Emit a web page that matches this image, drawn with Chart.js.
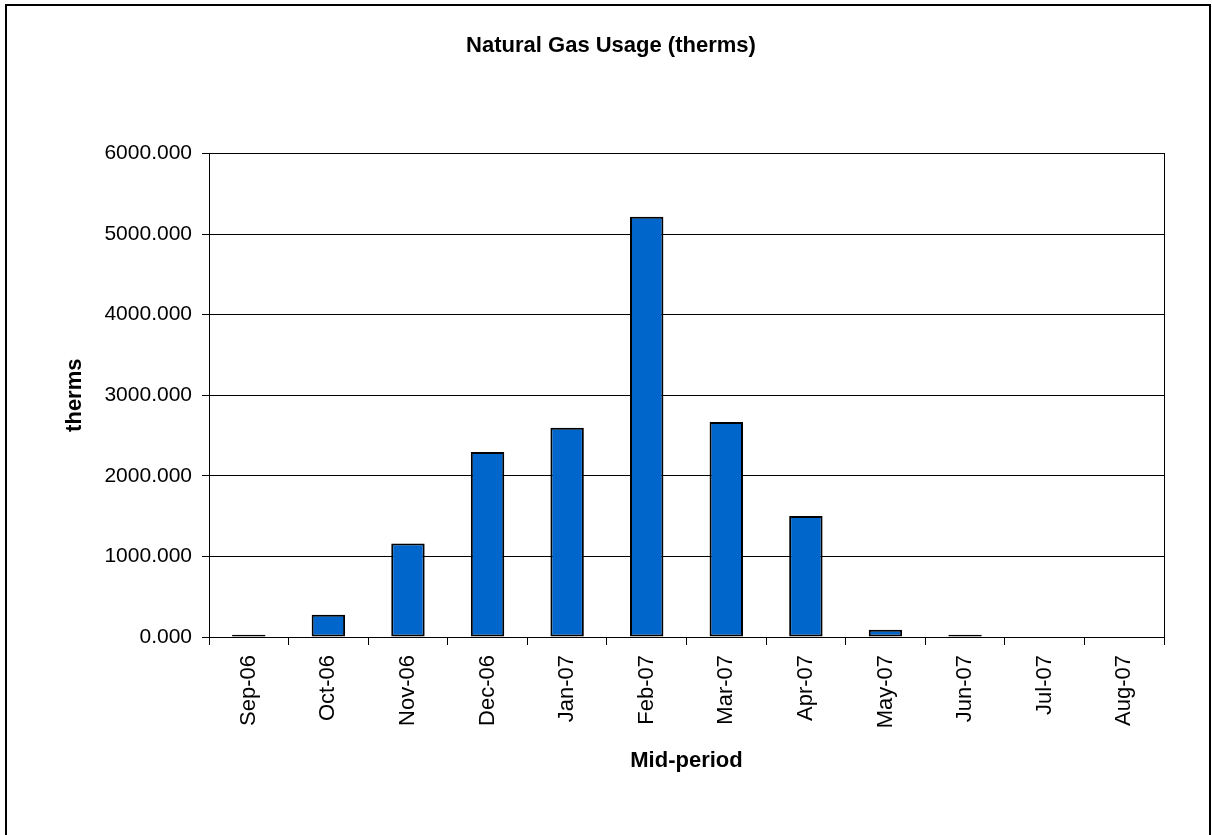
<!DOCTYPE html>
<html>
<head>
<meta charset="utf-8">
<script src="https://cdn.jsdelivr.net/npm/chart.js@4"></script>
<style>
  html, body { margin: 0; padding: 0; background: #fff; }
  #wrap { width: 1212px; height: 835px; position: relative; }
</style>
</head>
<body>
<div id="wrap"><canvas id="c"></canvas></div>
<script>
const categories = ["Sep-06","Oct-06","Nov-06","Dec-06","Jan-07","Feb-07","Mar-07","Apr-07","May-07","Jun-07","Jul-07","Aug-07"];
const usage = [28, 276, 1160, 2296, 2596, 5214, 2667, 1500, 90, 28, 0, 0];
const yTicks = [0, 1000, 2000, 3000, 4000, 5000, 6000];
const chartTitle = "Natural Gas Usage (therms)";
const xTitle = "Mid-period";
const yTitle = "therms";

const FONT = '"Liberation Sans", Arial, Helvetica, sans-serif';

const frame = {
  id: 'frame',
  beforeDraw(chart) {
    const ctx = chart.ctx;
    ctx.save();
    ctx.fillStyle = '#fff';
    ctx.fillRect(0, 0, chart.width, chart.height);
    ctx.strokeStyle = '#000';
    ctx.lineWidth = 2;
    ctx.strokeRect(6, 5, chart.width - 8, chart.height + 10);
    ctx.restore();
  },
  afterDraw(chart) {
    const a = chart.chartArea;
    const ctx = chart.ctx;
    ctx.save();
    ctx.strokeStyle = '#000';
    ctx.lineWidth = 1;
    ctx.strokeRect(Math.round(a.left) + 0.5, Math.round(a.top) + 0.5, Math.round(a.right - a.left), Math.round(a.bottom - a.top));
    ctx.restore();
  }
};

new Chart(document.getElementById('c'), {
  type: 'bar',
  data: {
    labels: categories,
    datasets: [{
      label: 'therms',
      data: usage,
      backgroundColor: '#0066CC',
      borderColor: '#000000',
      borderWidth: 2,
      borderSkipped: false,
      barPercentage: 0.42,
      categoryPercentage: 1.0
    }]
  },
  options: {
    responsive: true,
    maintainAspectRatio: false,
    animation: false,
    devicePixelRatio: 1,
    layout: { padding: { left: 58, right: 48, top: 0, bottom: 57 } },
    plugins: {
      legend: { display: false },
      tooltip: { enabled: false },
      title: {
        display: true,
        text: chartTitle,
        color: '#000',
        font: { family: FONT, size: 22, weight: 'bold' },
        padding: { top: 33, bottom: 94 }
      }
    },
    scales: {
      x: {
        grid: { display: true, drawOnChartArea: false, drawTicks: true, tickLength: 8, offset: true, color: '#000', lineWidth: 1 },
        border: { display: true, color: '#000', width: 1 },
        ticks: { color: '#000', font: { family: FONT, size: 22 }, minRotation: 90, maxRotation: 90, padding: 10, autoSkip: false },
        title: { display: true, text: xTitle, color: '#000', font: { family: FONT, size: 22, weight: 'bold' }, padding: { top: 4, bottom: 4 } },
        afterFit(scale) { scale.height = 141; }
      },
      y: {
        min: 0,
        max: 6000,
        afterBuildTicks(scale) { scale.ticks = yTicks.map(v => ({ value: v })); },
        grid: { display: true, drawTicks: true, tickLength: 7, color: '#000', lineWidth: 1 },
        border: { display: true, color: '#000', width: 1 },
        ticks: { color: '#000', font: { family: FONT, size: 21 }, padding: 10, callback: v => Number(v).toFixed(3) },
        title: { display: true, text: yTitle, color: '#000', font: { family: FONT, size: 22, weight: 'bold' }, padding: { top: 4, bottom: 4 } },
        afterFit(scale) { scale.width = 151; }
      }
    }
  },
  plugins: [frame]
});
</script>
</body>
</html>
